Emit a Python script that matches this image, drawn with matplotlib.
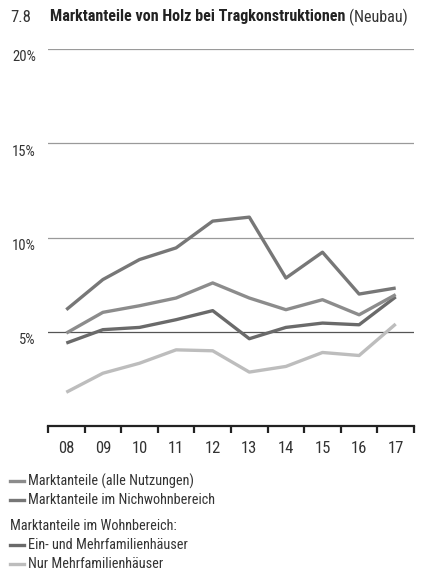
import matplotlib
matplotlib.use("Agg")
import matplotlib.pyplot as plt

years = ["08", "09", "10", "11", "12", "13", "14", "15", "16", "17"]
nichtwohn = [6.17, 7.77, 8.83, 9.45, 10.87, 11.08, 7.85, 9.22, 7.0, 7.32]
alle = [4.93, 6.03, 6.38, 6.79, 7.59, 6.79, 6.17, 6.70, 5.90, 6.97]
ein_mfh = [4.40, 5.11, 5.23, 5.64, 6.12, 4.63, 5.23, 5.46, 5.37, 6.85]
nur_mfh = [1.79, 2.80, 3.33, 4.04, 3.99, 2.86, 3.16, 3.90, 3.74, 5.41]
yticks = [5, 10, 15, 20]
ytick_labels = ["5%", "10%", "15%", "20%"]

plt.rcParams["font.family"] = ["Roboto Condensed", "DejaVu Sans"]

c_nw = "#777777"
c_alle = "#8c8c8c"
c_ein = "#6a6a6a"
c_nur = "#bdbdbd"
txt = "#333333"

fig = plt.figure(figsize=(4.21, 5.72), dpi=100)
ax = fig.add_axes([48/421, 1-426/572, 366/421, 377/572])
x = list(range(len(years)))
lw = 2.4
ax.plot(x, nur_mfh, color=c_nur, lw=lw, solid_capstyle="butt")
ax.plot(x, ein_mfh, color=c_ein, lw=lw, solid_capstyle="butt")
ax.plot(x, alle, color=c_alle, lw=lw, solid_capstyle="butt")
ax.plot(x, nichtwohn, color=c_nw, lw=lw, solid_capstyle="butt")

ax.set_xlim(-0.5, len(years)-0.5)
ax.set_ylim(0, 20)
for v in yticks:
    col = "#555555" if v == 5 else "#9a9a9a"
    ax.axhline(v, color=col, lw=0.9, zorder=0)
for s in ["top", "right", "left"]:
    ax.spines[s].set_visible(False)
ax.spines["bottom"].set_color("#222222")
ax.spines["bottom"].set_linewidth(1.6)
ax.set_yticks([])
ax.set_xticks(x)
ax.set_xticklabels(years, fontsize=12, color=txt)
ax.tick_params(axis="x", which="major", length=0, pad=11)
ax.set_xticks([i-0.5 for i in range(len(years)+1)], minor=True)
ax.tick_params(axis="x", which="minor", length=5, width=1.6, color="#222222", direction="out")
for v, lab in zip(yticks, ytick_labels):
    ax.text(-0.83, v-0.45, lab, ha="right", va="center", fontsize=10.5, color=txt,
            transform=ax.transData, clip_on=False)

fig.text(10/421, 1-17/572, "7.8", fontsize=12, color=txt, va="center", ha="left")
t = fig.text(50/421, 1-17/572, "Marktanteile von Holz bei Tragkonstruktionen", fontsize=11.6,
             fontweight="bold", color="#222222", va="center", ha="left")
fig.canvas.draw()
bb = t.get_window_extent()
fig.text((bb.x1 + 4)/421, 1-17/572, "(Neubau)", fontsize=11.6, color=txt, va="center", ha="left")

legend_rows = [
    (481, c_alle, "Marktanteile (alle Nutzungen)"),
    (500, c_nw, "Marktanteile im Nichwohnbereich"),
    (526, None, "Marktanteile im Wohnbereich:"),
    (545, c_ein, "Ein- und Mehrfamilienhäuser"),
    (564, c_nur, "Nur Mehrfamilienhäuser"),
]
for yp, col, label in legend_rows:
    yf = 1 - yp/572
    if col is None:
        fig.text(10/421, yf, label, fontsize=10.3, color=txt, va="center", ha="left")
    else:
        fig.add_artist(plt.Line2D([10/421, 24/421], [yf, yf], color=col, lw=2.4,
                                  transform=fig.transFigure))
        fig.text(28/421, yf, label, fontsize=10.3, color=txt, va="center", ha="left")

fig.savefig("out.png", dpi=100)
